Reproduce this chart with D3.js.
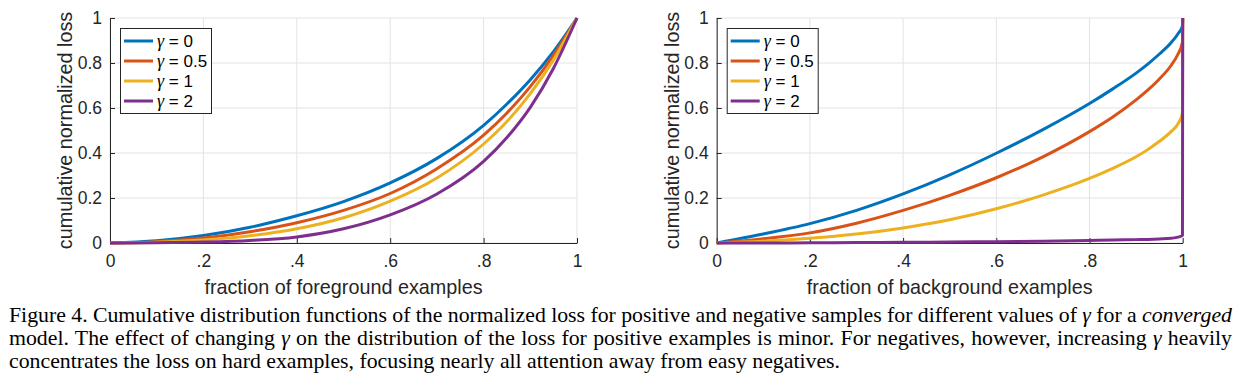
<!DOCTYPE html>
<html>
<head>
<meta charset="utf-8">
<script src="https://cdn.jsdelivr.net/npm/d3@7"></script>
<style>
  body { margin: 0; background: #fff; }
  svg { display: block; }
</style>
</head>
<body>
<div id="figure"></div>
<script>
// values
let gammaLabels = ["0", "0.5", "1", "2"]
let gammaColors = ["#0072BD", "#D95319", "#EDB120", "#7E2F8E"]

// left panel: positives (foreground)
let fgX = [0, 0.1, 0.2, 0.3, 0.4, 0.5, 0.6, 0.7, 0.8, 0.85, 0.9, 0.95, 1]
let fgGamma0 = [0, 0.01, 0.033, 0.07, 0.121, 0.184, 0.267, 0.376, 0.523, 0.618, 0.726, 0.852, 1]
let fgGamma05 = [0, 0.006, 0.022, 0.05, 0.09, 0.145, 0.22, 0.33, 0.479, 0.578, 0.695, 0.835, 1]
let fgGamma1 = [0, 0.003, 0.013, 0.032, 0.063, 0.112, 0.186, 0.289, 0.44, 0.54, 0.664, 0.815, 1]
let fgGamma2 = [0, 0.001, 0.004, 0.011, 0.027, 0.063, 0.125, 0.218, 0.363, 0.469, 0.603, 0.778, 1]

// right panel: negatives (background)
let bgX = [0, 0.1, 0.2, 0.3, 0.4, 0.5, 0.6, 0.7, 0.8, 0.85, 0.9, 0.925, 0.95, 0.975, 0.99, 0.9995, 1]
let bgGamma0 = [0, 0.04, 0.086, 0.145, 0.218, 0.303, 0.399, 0.504, 0.62, 0.685, 0.755, 0.795, 0.84, 0.89, 0.93, 0.965, 1]
let bgGamma05 = [0, 0.019, 0.045, 0.088, 0.145, 0.212, 0.29, 0.383, 0.495, 0.56, 0.636, 0.679, 0.729, 0.789, 0.84, 0.893, 1]
let bgGamma1 = [0, 0.008, 0.021, 0.04, 0.067, 0.103, 0.152, 0.213, 0.287, 0.332, 0.383, 0.415, 0.452, 0.495, 0.53, 0.578, 1]
let bgGamma2 = [0, 0, 0.001, 0.002, 0.003, 0.004, 0.006, 0.008, 0.011, 0.013, 0.015, 0.016, 0.018, 0.021, 0.026, 0.034, 1]

let xTicks = [0, 0.2, 0.4, 0.6, 0.8, 1]
let xTickLabels = ["0", ".2", ".4", ".6", ".8", "1"]
let yTicks = [0, 0.2, 0.4, 0.6, 0.8, 1]
let yTickLabels = ["0", "0.2", "0.4", "0.6", "0.8", "1"]

let captionLines = [
    [["Figure 4. Cumulative distribution functions of the normalized loss for positive and negative samples for different values of ", ""], ["γ", "i"], [" for a ", ""], ["converged", "i"]],
    [["model. The effect of changing ", ""], ["γ", "i"], [" on the distribution of the loss for positive examples is minor. For negatives, however, increasing ", ""], ["γ", "i"], [" heavily", ""]],
    [["concentrates the loss on hard examples, focusing nearly all attention away from easy negatives.", ""]]
]

let W = 1238, H = 388
let axisColor = "#262626"
let sans = "'Liberation Sans', Arial, Helvetica, sans-serif"
let serif = "'Liberation Serif', 'Times New Roman', serif"

let svg = d3.select("#figure").append("svg")
    .attr("width", W)
    .attr("height", H)

function drawPanel(left, right, xs, series, xTitle) {
    let top = 18, bottom = 243

    let xScale = d3.scaleLinear().domain([0, 1]).range([left, right])
    let yScale = d3.scaleLinear().domain([0, 1]).range([bottom, top])

    let g = svg.append("g")

    // grid
    g.append("g")
        .selectAll("line")
        .data(xTicks)
        .enter().append("line")
        .attr("x1", d => xScale(d)).attr("x2", d => xScale(d))
        .attr("y1", top).attr("y2", bottom)
        .attr("stroke", "#e3e3e3").attr("stroke-width", 1)
    g.append("g")
        .selectAll("line")
        .data(yTicks)
        .enter().append("line")
        .attr("x1", left).attr("x2", right)
        .attr("y1", d => yScale(d)).attr("y2", d => yScale(d))
        .attr("stroke", "#e3e3e3").attr("stroke-width", 1)

    // axes with inward ticks
    g.append("g")
        .attr("transform", "translate(0," + bottom + ")")
        .call(d3.axisBottom(xScale)
            .tickValues(xTicks)
            .tickFormat((d, i) => xTickLabels[i])
            .tickSizeInner(-5)
            .tickSizeOuter(0)
            .tickPadding(12))
    g.append("g")
        .attr("transform", "translate(" + left + ",0)")
        .call(d3.axisLeft(yScale)
            .tickValues(yTicks)
            .tickFormat((d, i) => yTickLabels[i])
            .tickSizeInner(-5)
            .tickSizeOuter(0)
            .tickPadding(8))

    g.selectAll(".domain, .tick line").attr("stroke", axisColor)
    g.selectAll(".tick text")
        .attr("fill", axisColor)
        .style("font-family", sans)
        .style("font-size", "17.5px")

    // curves
    let line = d3.line()
        .x(d => xScale(d[0]))
        .y(d => yScale(d[1]))
        .curve(d3.curveMonotoneX)

    series.forEach((ys, k) => {
        g.append("path")
            .datum(xs.map((x, i) => [x, ys[i]]))
            .attr("d", line)
            .attr("fill", "none")
            .attr("stroke", gammaColors[k])
            .attr("stroke-width", 3)
            .attr("stroke-linejoin", "round")
    })

    // axis titles
    g.append("text")
        .attr("x", (left + right) / 2)
        .attr("y", 294)
        .attr("text-anchor", "middle")
        .attr("fill", axisColor)
        .style("font-family", sans)
        .style("font-size", "19.8px")
        .text(xTitle)
    g.append("text")
        .attr("transform", "translate(" + (left - 38) + "," + ((top + bottom) / 2) + ") rotate(-90)")
        .attr("text-anchor", "middle")
        .attr("fill", axisColor)
        .style("font-family", sans)
        .style("font-size", "19.8px")
        .text("cumulative normalized loss")

    // legend
    let lx = left + 10, ly = 28
    let legend = g.append("g")
    legend.append("rect")
        .attr("x", lx + 0.5).attr("y", ly + 0.5)
        .attr("width", 91).attr("height", 85)
        .attr("fill", "#fff")
        .attr("stroke", axisColor).attr("stroke-width", 1)
    gammaLabels.forEach((lab, k) => {
        let yy = ly + 13 + k * 20
        legend.append("line")
            .attr("x1", lx + 4).attr("x2", lx + 33)
            .attr("y1", yy).attr("y2", yy)
            .attr("stroke", gammaColors[k]).attr("stroke-width", 3)
        let t = legend.append("text")
            .attr("x", lx + 37).attr("y", yy + 6)
            .attr("fill", "#000")
            .style("font-family", sans)
            .style("font-size", "17px")
        t.append("tspan")
            .style("font-family", serif)
            .style("font-style", "italic")
            .style("font-size", "18px")
            .text("γ")
        t.append("tspan").text(" = " + lab)
    })
}

drawPanel(110, 577, fgX, [fgGamma0, fgGamma05, fgGamma1, fgGamma2], "fraction of foreground examples")
drawPanel(716.7, 1182.7, bgX, [bgGamma0, bgGamma05, bgGamma1, bgGamma2], "fraction of background examples")

// caption, first two lines justified
let capLeft = 9, capRight = 1232
captionLines.forEach((parts, i) => {
    let t = svg.append("text")
        .attr("x", capLeft)
        .attr("y", 322 + i * 23)
        .attr("fill", "#000")
        .style("font-family", serif)
        .style("font-size", "21.8px")
    parts.forEach(p => {
        t.append("tspan")
            .style("font-style", p[1] == "i" ? "italic" : "normal")
            .text(p[0])
    })
    if (i < 2) {
        let natural = t.node().getComputedTextLength()
        let spaces = parts.map(p => p[0]).join("").split(" ").length - 1
        t.style("word-spacing", ((capRight - capLeft - natural) / spaces) + "px")
    }
})
</script>
</body>
</html>
